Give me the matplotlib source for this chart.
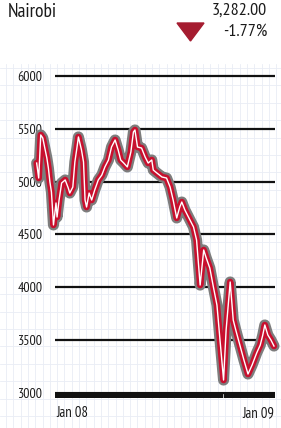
import numpy as np
import pandas as pd
import matplotlib
matplotlib.use("Agg")
from matplotlib import pyplot as plt

# index level, days counted from 2 Jan 2008
start_date = "2008-01-02"
day_offsets = [0, 4, 8, 12, 16, 20, 23, 26, 29, 33, 38, 40, 44, 49, 56, 62, 65, 71,
               75, 79, 82, 88, 92, 95, 98, 103, 108, 114, 121, 128, 134, 141, 147,
               154, 160, 165, 171, 178, 185, 190, 193, 198, 206, 213, 219, 226, 229,
               236, 246, 255, 262, 268, 275, 281, 285, 291, 301, 308, 314, 321, 328,
               333, 340, 347, 354, 360, 367, 372, 380, 386, 391, 399, 407, 415, 423,
               432, 439, 444, 448, 454, 460, 466]
index_values = [5176, 5034, 5442, 5413, 5318, 5224, 5129, 4997, 4902, 4590, 4798,
                4665, 4826, 4987, 5016, 4940, 4892, 4949, 5186, 5318, 5423, 5300,
                5186, 4826, 4760, 4892, 4826, 4921, 5016, 5063, 5139, 5205, 5328,
                5394, 5300, 5205, 5176, 5139, 5281, 5470, 5489, 5328, 5318, 5233,
                5176, 5205, 5110, 5082, 5044, 5034, 4949, 4826, 4656, 4760, 4807,
                4732, 4637, 4571, 4447, 4021, 4353, 4277, 4182, 4003, 3832, 3501,
                3122, 3595, 4050, 3690, 3595, 3453, 3311, 3179, 3264, 3378, 3453,
                3548, 3643, 3548, 3501, 3444]
y_ticks = [3000, 3500, 4000, 4500, 5000, 5500, 6000]
market = "Nairobi"
last_close = "3,282.00"
pct_change = "-1.77%"
x_labels = ["Jan 08", "Jan 09"]

plt.rcParams["font.family"] = ["PT Sans Narrow", "DejaVu Sans"]

W, H = 281, 428
fig = plt.figure(figsize=(W / 100, H / 100), dpi=100)
fig.patch.set_facecolor("white")

# faint background grid paper
bg = fig.add_axes([0, 0, 1, 1])
bg.set_xlim(0, W)
bg.set_ylim(H, 0)
bg.axis("off")
for gx in np.arange(6, W, 7.3):
    bg.plot([gx, gx], [64, H], color="#e9edf5", lw=0.6)
for gy in np.arange(68, H, 17.4):
    bg.plot([0, W], [gy, gy], color="#e9edf5", lw=0.6)

dates = pd.to_datetime(start_date) + pd.to_timedelta(day_offsets, unit="D")

ax = fig.add_axes([55 / W, 0.0696, 220 / W, 0.7652])
ax.patch.set_alpha(0)
ax.set_xlim(pd.to_datetime(start_date) + pd.Timedelta(days=36),
            pd.to_datetime(start_date) + pd.Timedelta(days=468))
ax.set_ylim(2950, 6050)
for s in ax.spines.values():
    s.set_visible(False)

for v in y_ticks[1:]:
    ax.axhline(v, color="#111111", lw=1.6, zorder=1)
ax.axhline(2985, color="#111111", lw=4.4, zorder=1)
ax.axvline(pd.Timestamp("2009-01-01"), ymin=0.0, ymax=0.012, color="white", lw=0.5, zorder=1.5)

ax.set_yticks(y_ticks)
ax.set_yticklabels([str(v) for v in y_ticks])
ax.tick_params(axis="y", length=0, pad=9, labelsize=10, labelcolor="#1a1a1a")
ax.set_xticks([])

ax.plot(dates, index_values, color="#7d7d7d", lw=8.0, solid_joinstyle="round",
        solid_capstyle="round", clip_on=False, zorder=3)
ax.plot(dates, index_values, color="#c8102e", lw=4.7, solid_joinstyle="round",
        solid_capstyle="round", clip_on=False, zorder=4)
ax.plot(dates, index_values, color="white", lw=1.0, solid_joinstyle="round",
        clip_on=False, zorder=5)

fig.text(56 / W, 1 - 413 / H, x_labels[0], ha="left", va="center", fontsize=10.5, color="#1a1a1a")
fig.text(274 / W, 1 - 413 / H, x_labels[1], ha="right", va="center", fontsize=10.5, color="#1a1a1a")

# header
fig.text(8 / W, 1 - 12 / H, market, ha="left", va="center", fontsize=14, color="#1a1a1a")
fig.text(267 / W, 1 - 11 / H, last_close, ha="right", va="center", fontsize=13, color="#1a1a1a")
fig.text(267 / W, 1 - 32 / H, pct_change, ha="right", va="center", fontsize=13, color="#1a1a1a")
tri = plt.Polygon([[177 / W, 1 - 23 / H], [204 / W, 1 - 23 / H], [190.5 / W, 1 - 41 / H]],
                  closed=True, transform=fig.transFigure, color="#a51c30")
fig.add_artist(tri)

fig.savefig("out.png", dpi=100)
